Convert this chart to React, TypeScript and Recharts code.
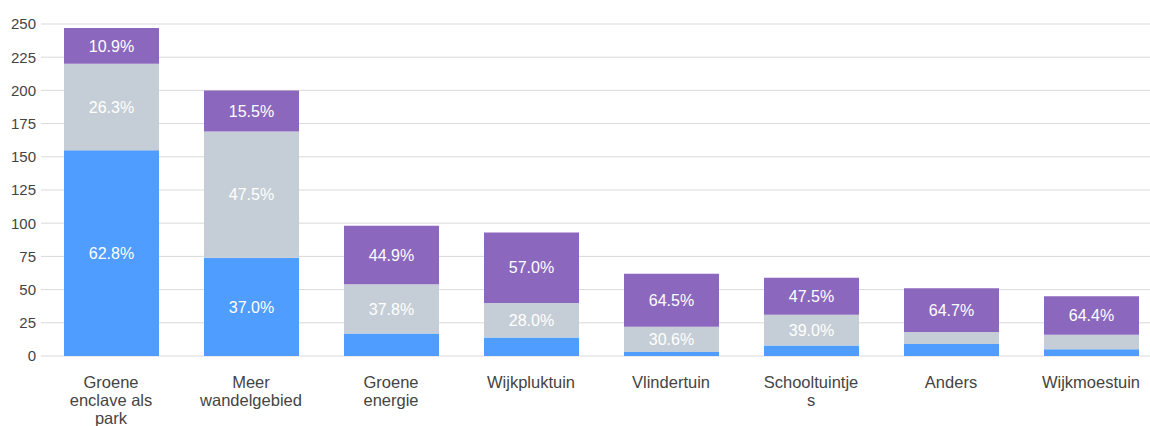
import { BarChart, Bar, XAxis, YAxis, CartesianGrid, LabelList } from 'recharts';

const categories = ['Groene enclave als park', 'Meer wandelgebied', 'Groene energie', 'Wijkpluktuin', 'Vlindertuin', 'Schooltuintjes', 'Anders', 'Wijkmoestuin'];
const tickLines = [['Groene', 'enclave als', 'park'], ['Meer', 'wandelgebied'], ['Groene', 'energie'], ['Wijkpluktuin'], ['Vlindertuin'], ['Schooltuintje', 's'], ['Anders'], ['Wijkmoestuin']];
const blueValues = [155, 74, 17, 14, 3, 8, 9, 5];
const grayValues = [65, 95, 37, 26, 19, 23, 9, 11];
const purpleValues = [27, 31, 44, 53, 40, 28, 33, 29];
const blueLabels = ['62.8%', '37.0%', '', '', '', '', '', ''];
const grayLabels = ['26.3%', '47.5%', '37.8%', '28.0%', '30.6%', '39.0%', '', ''];
const purpleLabels = ['10.9%', '15.5%', '44.9%', '57.0%', '64.5%', '47.5%', '64.7%', '64.4%'];
const yTicks = [0, 25, 50, 75, 100, 125, 150, 175, 200, 225, 250];

const data = categories.map((name, i) => ({
  name,
  blue: blueValues[i],
  gray: grayValues[i],
  purple: purpleValues[i],
  blueLabel: blueLabels[i],
  grayLabel: grayLabels[i],
  purpleLabel: purpleLabels[i]
}));

const font = '"Liberation Sans", Arial, sans-serif';

const CategoryTick = (props: any) => {
  const { x, y, index } = props;
  const lines = tickLines[index] || [];
  return <text x={x} y={y + 24} textAnchor="middle" fill="#444" fontSize={16.5} fontFamily={font}>
      {lines.map((l, i) => <tspan key={i} x={x} dy={i === 0 ? 0 : 18}>{l}</tspan>)}
    </text>;
};

const labelStyle = {
  fill: '#fff',
  fontSize: 16,
  fontFamily: font
};

const App = () => {
  return <div style={{ position: 'absolute', left: 0, top: 0, width: 1150, height: 426, overflow: 'hidden', background: '#fff' }}>
      <BarChart width={1161} height={426} data={data} barSize={95} margin={{
      top: 24,
      right: 0,
      bottom: 0,
      left: 0
    }}>
        <CartesianGrid vertical={false} stroke="#d9d9d9" />
        <XAxis dataKey="name" height={70} axisLine={false} tickLine={false} interval={0} tick={<CategoryTick />} />
        <YAxis width={41} domain={[0, 250]} ticks={yTicks} axisLine={false} tickLine={false} tickSize={5} tickMargin={0} tick={{
        fill: '#444',
        fontSize: 15,
        fontFamily: font
      }} />
        <Bar dataKey="blue" stackId="a" fill="#4f9dfe" isAnimationActive={false}>
          <LabelList dataKey="blueLabel" position="center" style={labelStyle} />
        </Bar>
        <Bar dataKey="gray" stackId="a" fill="#c5ced6" isAnimationActive={false}>
          <LabelList dataKey="grayLabel" position="center" style={labelStyle} />
        </Bar>
        <Bar dataKey="purple" stackId="a" fill="#8b68be" isAnimationActive={false}>
          <LabelList dataKey="purpleLabel" position="center" style={labelStyle} />
        </Bar>
      </BarChart>
    </div>;
};

export default App;
